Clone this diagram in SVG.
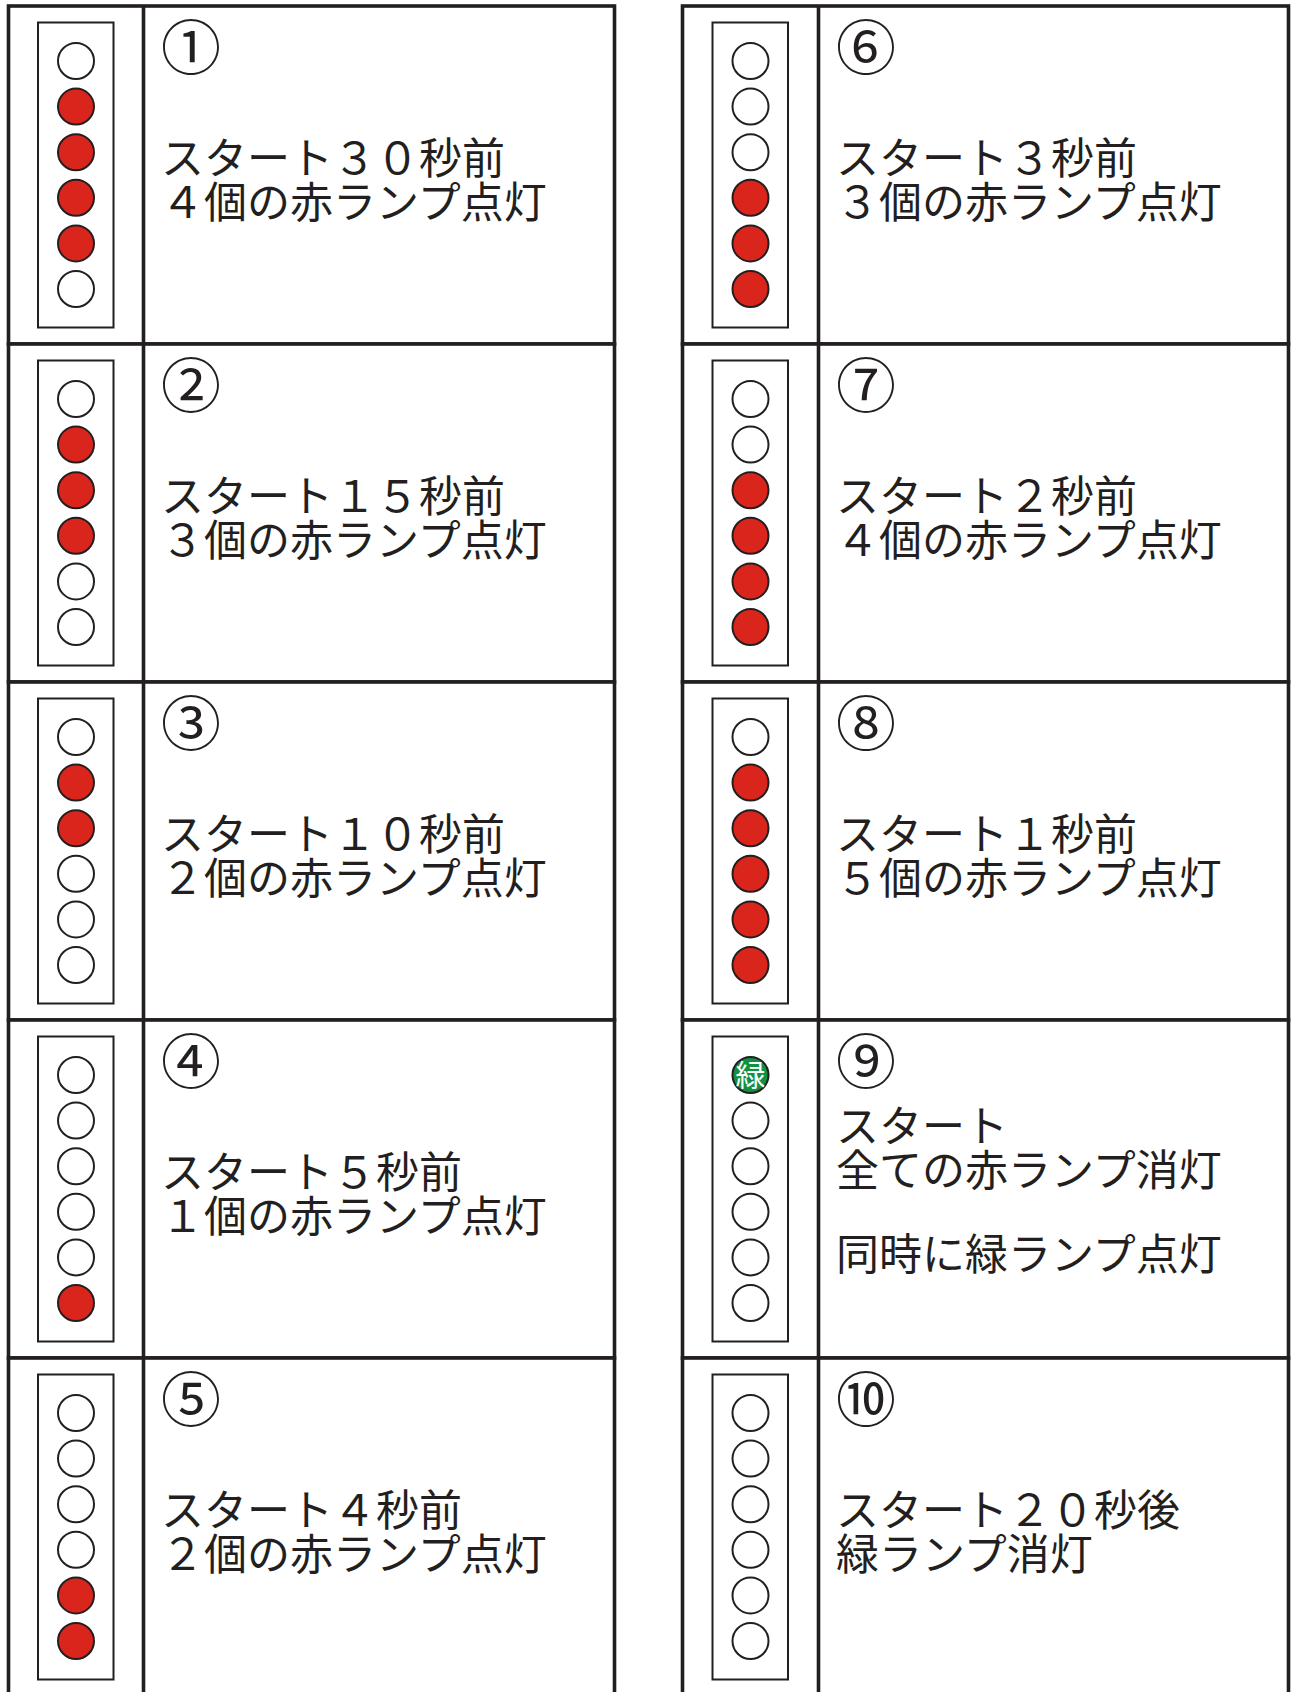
<svg xmlns="http://www.w3.org/2000/svg" width="1292" height="1692" viewBox="0 0 1292 1692">
<style>
.cell{fill:#fff;stroke:#231f20;stroke-width:3.6}
.div{stroke:#231f20;stroke-width:3.6}
.box{fill:#fff;stroke:#231f20;stroke-width:2}
.off{fill:#fff;stroke:#231f20;stroke-width:2}
.on{fill:#da251d;stroke:#231f20;stroke-width:2}
.grn{fill:#11913f;stroke:#231f20;stroke-width:2}
.num{font-family:"Noto Sans CJK JP","Noto Sans",sans-serif;font-size:60px;fill:#231f20;text-anchor:middle}
.txt{font-family:"Noto Sans CJK JP",sans-serif;font-size:43px;fill:#231f20}
.g{font-family:"Noto Sans CJK JP",sans-serif;font-size:30px;fill:#fff;text-anchor:middle}
</style>
<rect width="1292" height="1692" fill="#fff"/>
<defs>
<circle id="o" r="18" class="off"/>
<circle id="r" r="18" class="on"/>
</defs>
<g id="connectors"></g>

<g id="step1" transform="translate(0,6)">
<rect class="cell" x="8.5" y="0" width="606" height="338"/><line class="div" x1="143.5" y1="0" x2="143.5" y2="338"/>
<rect class="box" x="38" y="16.5" width="75.5" height="305"/>
<use href="#o" x="76" y="55"/><use href="#r" x="76" y="100.6"/><use href="#r" x="76" y="146.2"/><use href="#r" x="76" y="191.8"/><use href="#r" x="76" y="237.4"/><use href="#o" x="76" y="283"/>
<text class="num" x="191" y="64">①</text>
<text class="txt" x="161" y="168">スタート３０秒前<tspan x="161" dy="43.5">４個の赤ランプ点灯</tspan></text>
</g>

<g id="step2" transform="translate(0,344)">
<rect class="cell" x="8.5" y="0" width="606" height="338"/><line class="div" x1="143.5" y1="0" x2="143.5" y2="338"/>
<rect class="box" x="38" y="16.5" width="75.5" height="305"/>
<use href="#o" x="76" y="55"/><use href="#r" x="76" y="100.6"/><use href="#r" x="76" y="146.2"/><use href="#r" x="76" y="191.8"/><use href="#o" x="76" y="237.4"/><use href="#o" x="76" y="283"/>
<text class="num" x="191" y="64">②</text>
<text class="txt" x="161" y="168">スタート１５秒前<tspan x="161" dy="43.5">３個の赤ランプ点灯</tspan></text>
</g>

<g id="step3" transform="translate(0,682)">
<rect class="cell" x="8.5" y="0" width="606" height="338"/><line class="div" x1="143.5" y1="0" x2="143.5" y2="338"/>
<rect class="box" x="38" y="16.5" width="75.5" height="305"/>
<use href="#o" x="76" y="55"/><use href="#r" x="76" y="100.6"/><use href="#r" x="76" y="146.2"/><use href="#o" x="76" y="191.8"/><use href="#o" x="76" y="237.4"/><use href="#o" x="76" y="283"/>
<text class="num" x="191" y="64">③</text>
<text class="txt" x="161" y="168">スタート１０秒前<tspan x="161" dy="43.5">２個の赤ランプ点灯</tspan></text>
</g>

<g id="step4" transform="translate(0,1020)">
<rect class="cell" x="8.5" y="0" width="606" height="338"/><line class="div" x1="143.5" y1="0" x2="143.5" y2="338"/>
<rect class="box" x="38" y="16.5" width="75.5" height="305"/>
<use href="#o" x="76" y="55"/><use href="#o" x="76" y="100.6"/><use href="#o" x="76" y="146.2"/><use href="#o" x="76" y="191.8"/><use href="#o" x="76" y="237.4"/><use href="#r" x="76" y="283"/>
<text class="num" x="191" y="64">④</text>
<text class="txt" x="161" y="168">スタート５秒前<tspan x="161" dy="43.5">１個の赤ランプ点灯</tspan></text>
</g>

<g id="step5" transform="translate(0,1358)">
<rect class="cell" x="8.5" y="0" width="606" height="338"/><line class="div" x1="143.5" y1="0" x2="143.5" y2="338"/>
<rect class="box" x="38" y="16.5" width="75.5" height="305"/>
<use href="#o" x="76" y="55"/><use href="#o" x="76" y="100.6"/><use href="#o" x="76" y="146.2"/><use href="#o" x="76" y="191.8"/><use href="#r" x="76" y="237.4"/><use href="#r" x="76" y="283"/>
<text class="num" x="191" y="64">⑤</text>
<text class="txt" x="161" y="168">スタート４秒前<tspan x="161" dy="43.5">２個の赤ランプ点灯</tspan></text>
</g>

<g id="step6" transform="translate(674,6)">
<rect class="cell" x="8.5" y="0" width="606" height="338"/><line class="div" x1="144.5" y1="0" x2="144.5" y2="338"/>
<rect class="box" x="38.5" y="16.5" width="75.5" height="305"/>
<use href="#o" x="76.5" y="55"/><use href="#o" x="76.5" y="100.6"/><use href="#o" x="76.5" y="146.2"/><use href="#r" x="76.5" y="191.8"/><use href="#r" x="76.5" y="237.4"/><use href="#r" x="76.5" y="283"/>
<text class="num" x="192" y="64">⑥</text>
<text class="txt" x="162" y="168">スタート３秒前<tspan x="162" dy="43.5">３個の赤ランプ点灯</tspan></text>
</g>

<g id="step7" transform="translate(674,344)">
<rect class="cell" x="8.5" y="0" width="606" height="338"/><line class="div" x1="144.5" y1="0" x2="144.5" y2="338"/>
<rect class="box" x="38.5" y="16.5" width="75.5" height="305"/>
<use href="#o" x="76.5" y="55"/><use href="#o" x="76.5" y="100.6"/><use href="#r" x="76.5" y="146.2"/><use href="#r" x="76.5" y="191.8"/><use href="#r" x="76.5" y="237.4"/><use href="#r" x="76.5" y="283"/>
<text class="num" x="192" y="64">⑦</text>
<text class="txt" x="162" y="168">スタート２秒前<tspan x="162" dy="43.5">４個の赤ランプ点灯</tspan></text>
</g>

<g id="step8" transform="translate(674,682)">
<rect class="cell" x="8.5" y="0" width="606" height="338"/><line class="div" x1="144.5" y1="0" x2="144.5" y2="338"/>
<rect class="box" x="38.5" y="16.5" width="75.5" height="305"/>
<use href="#o" x="76.5" y="55"/><use href="#r" x="76.5" y="100.6"/><use href="#r" x="76.5" y="146.2"/><use href="#r" x="76.5" y="191.8"/><use href="#r" x="76.5" y="237.4"/><use href="#r" x="76.5" y="283"/>
<text class="num" x="192" y="64">⑧</text>
<text class="txt" x="162" y="168">スタート１秒前<tspan x="162" dy="43.5">５個の赤ランプ点灯</tspan></text>
</g>

<g id="step9" transform="translate(674,1020)">
<rect class="cell" x="8.5" y="0" width="606" height="338"/><line class="div" x1="144.5" y1="0" x2="144.5" y2="338"/>
<rect class="box" x="38.5" y="16.5" width="75.5" height="305"/>
<circle class="grn" cx="76.5" cy="55" r="18"/>
<text class="g" x="76.5" y="66">緑</text>
<use href="#o" x="76.5" y="100.6"/><use href="#o" x="76.5" y="146.2"/><use href="#o" x="76.5" y="191.8"/><use href="#o" x="76.5" y="237.4"/><use href="#o" x="76.5" y="283"/>
<text class="num" x="192" y="64">⑨</text>
<text class="txt" x="162" y="122">スタート<tspan x="162" dy="44">全ての赤ランプ消灯</tspan></text>
<text class="txt" x="162" y="250">同時に緑ランプ点灯</text>
</g>

<g id="step10" transform="translate(674,1358)">
<rect class="cell" x="8.5" y="0" width="606" height="338"/><line class="div" x1="144.5" y1="0" x2="144.5" y2="338"/>
<rect class="box" x="38.5" y="16.5" width="75.5" height="305"/>
<use href="#o" x="76.5" y="55"/><use href="#o" x="76.5" y="100.6"/><use href="#o" x="76.5" y="146.2"/><use href="#o" x="76.5" y="191.8"/><use href="#o" x="76.5" y="237.4"/><use href="#o" x="76.5" y="283"/>
<text class="num" x="192" y="64">⑩</text>
<text class="txt" x="162" y="168">スタート２０秒後<tspan x="162" dy="43.5">緑ランプ消灯</tspan></text>
</g>
</svg>
